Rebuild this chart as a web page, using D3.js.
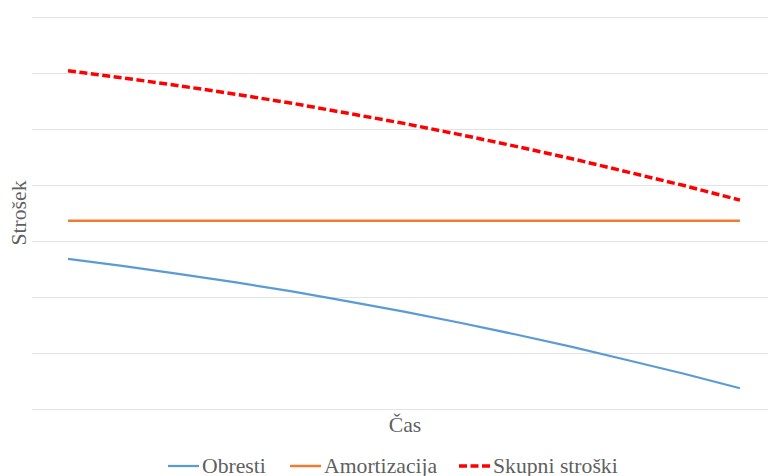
<!DOCTYPE html>
<html>
<head>
<meta charset="utf-8">
<script src="https://cdn.jsdelivr.net/npm/d3@7"></script>
<style>
  html, body { margin: 0; padding: 0; background: #fff; }
  svg { display: block; }
</style>
</head>
<body>
<svg id="chart" width="768" height="476"></svg>
<script>
// Loan cost over time: interest, straight-line depreciation, total
const periods = [1, 2, 3, 4, 5, 6, 7, 8, 9, 10, 11, 12, 13];
const obresti = [2.68, 2.55, 2.41, 2.26, 2.10, 1.92, 1.74, 1.54, 1.33, 1.11, 0.87, 0.63, 0.37];
const amortizacija = [3.36, 3.36, 3.36, 3.36, 3.36, 3.36, 3.36, 3.36, 3.36, 3.36, 3.36, 3.36, 3.36];
const skupniStroski = [6.04, 5.91, 5.77, 5.62, 5.46, 5.28, 5.10, 4.90, 4.69, 4.47, 4.23, 3.99, 3.73];
const yTicks = [0, 1, 2, 3, 4, 5, 6, 7];

const seriesNames = ["Obresti", "Amortizacija", "Skupni stroški"];

const FONT = "'Liberation Serif', Tinos, 'Times New Roman', 'DejaVu Serif', serif";
const FONT_SIZE = 21.7;
const TEXT_COLOR = "#5f5f5f";

const svg = d3.select("#chart");

const plot = { left: 32, right: 768, top: 17, bottom: 409 };

const x = d3.scalePoint()
  .domain(periods)
  .range([68, 740]);

const y = d3.scaleLinear()
  .domain([0, 7])
  .range([plot.bottom, plot.top]);

// horizontal gridlines
const grid = svg.append("g")
  .attr("transform", `translate(${plot.left},0)`)
  .call(d3.axisLeft(y)
    .tickValues(yTicks)
    .tickSize(-(plot.right - plot.left))
    .tickFormat(""));
grid.select(".domain").remove();
grid.selectAll(".tick line")
  .attr("stroke", "#e3e3e3")
  .attr("stroke-width", 1);

const series = [
  { name: seriesNames[0], values: obresti, color: "#5b9bd5", width: 2.25, dash: null },
  { name: seriesNames[1], values: amortizacija, color: "#ed7d31", width: 2.5, dash: null },
  { name: seriesNames[2], values: skupniStroski, color: "#ff0000", width: 3.5, dash: "8,3.5" }
];

const line = d3.line()
  .x((d, i) => x(periods[i]))
  .y(d => y(d));

svg.append("g")
  .selectAll("path")
  .data(series)
  .join("path")
  .attr("fill", "none")
  .attr("stroke", d => d.color)
  .attr("stroke-width", d => d.width)
  .attr("stroke-dasharray", d => d.dash)
  .attr("d", d => line(d.values));

// axis titles
svg.append("text")
  .attr("x", 405)
  .attr("y", 432)
  .attr("text-anchor", "middle")
  .attr("font-family", FONT)
  .attr("font-size", FONT_SIZE)
  .attr("fill", TEXT_COLOR)
  .text("Čas");

svg.append("text")
  .attr("transform", "translate(26,213) rotate(-90)")
  .attr("text-anchor", "middle")
  .attr("font-family", FONT)
  .attr("font-size", FONT_SIZE)
  .attr("fill", TEXT_COLOR)
  .text("Strošek");

// legend
const legendX = [168, 290, 459];
const legend = svg.append("g");
series.forEach((s, i) => {
  const g = legend.append("g").attr("transform", `translate(${legendX[i]},466)`);
  g.append("line")
    .attr("x1", 0).attr("x2", 31)
    .attr("y1", 0).attr("y2", 0)
    .attr("stroke", s.color)
    .attr("stroke-width", s.width)
    .attr("stroke-dasharray", s.dash);
  g.append("text")
    .attr("x", 34)
    .attr("y", 6.5)
    .attr("font-family", FONT)
    .attr("font-size", FONT_SIZE)
    .attr("fill", TEXT_COLOR)
    .text(s.name);
});
</script>
</body>
</html>
